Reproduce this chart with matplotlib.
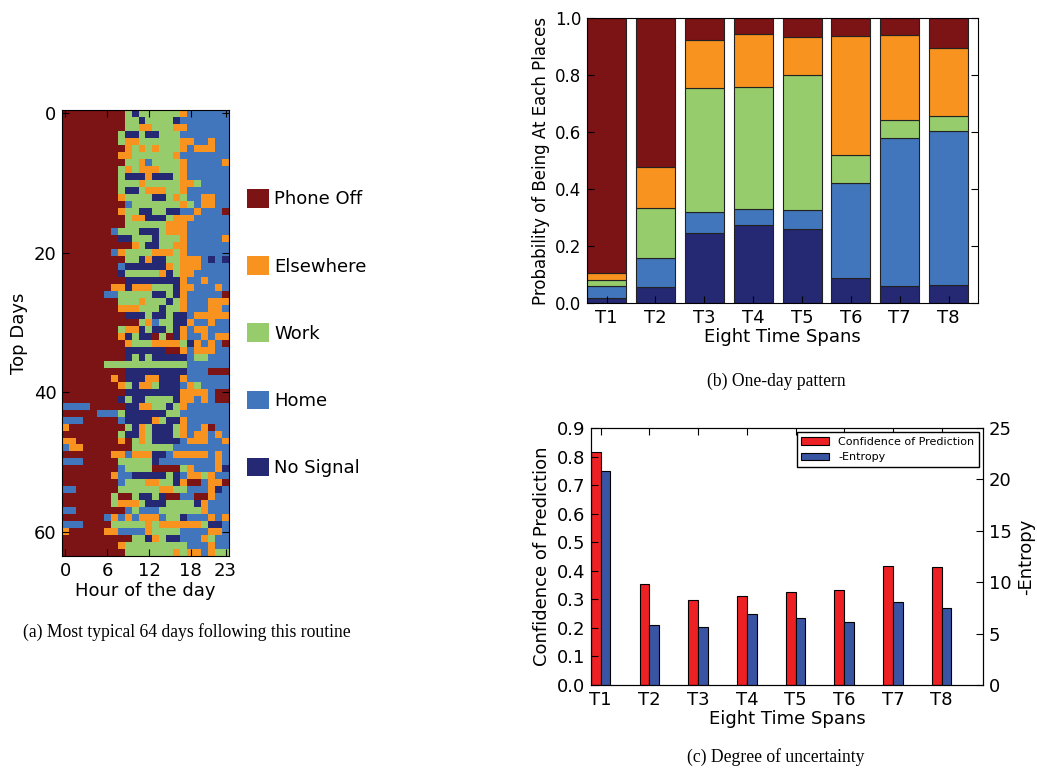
import numpy as np
import matplotlib.pyplot as plt
from matplotlib.colors import ListedColormap
from matplotlib.patches import Patch

plt.rcParams.update({
    'font.family': 'DejaVu Sans',
    'font.size': 12,
    'xtick.direction': 'in',
    'ytick.direction': 'in',
    'xtick.top': True,
    'ytick.right': True,
    'xtick.major.size': 5,
    'ytick.major.size': 5,
    'xtick.major.pad': 4,
    'ytick.major.pad': 4,
})

# categories (bottom -> top in the stacked bars)
states = ['No Signal', 'Home', 'Work', 'Elsewhere', 'Phone Off']
codes = 'NHWEP'
state_colors = ['#252872', '#4176bc', '#96cc6b', '#f7931e', '#7c1315']

# 64 typical days x 24 hours, one letter per hour
days = [
    "PPPPPPPPPWNWWWWWWEHHHHHH",
    "PPPPPPPPPWWNWWWWNHHHHHHH",
    "PPPPPPPPPWWEEWWWEEHHHHHH",
    "PPPPPPPPWNNWNNWWWHHHHHHH",
    "PPPPPPPPWEEWWWWWWEEHHEHH",
    "PPPPPPPPPEWEWEWWWEHEEEHH",
    "PPPPPPPPEEWWWWWWEHHHHHHH",
    "PPPPPPPPPWWEHWWWWEHHHHHE",
    "PPPPPPPPWEWEEEWWWEHHHHHH",
    "PPPPPPPPWNNNENNNWEHHHHHH",
    "PPPPPPPPWWWEWWWWWEEWHHHH",
    "PPPPPPPPWNNWEEEWWEHHHHHH",
    "PPPPPPPPEWWWWNNWEWHHEEHH",
    "PPPPPPPPPHWWWWWWWEWHEEHH",
    "PPPPPPPPEWWNNWWNNHHEHHHP",
    "PPPPPPPPPWEENNNWEEEHHHHH",
    "PPPPPPPPPWWWWWWEEEHHHHHH",
    "PPPPPPPHWWWNNNWEEEHHHHHH",
    "PPPPPPPPNNWWWNWWWEHHHHHE",
    "PPPPPPPPPPEWNNWWEEHHHHHH",
    "PPPPPPPHEWWWWEEEWEHHHHHH",
    "PPPPPPPPPWWNENNWWEEEHNHN",
    "PPPPPPPPHNNNNNNEWEEEHHHH",
    "PPPPPPPPNWWWWWENWEEHHHHH",
    "PPPPPPPPPNNNNNNNNEHHEHHH",
    "PPPPPPPEENEEEWWWNEEHHHEH",
    "PPPPPPHHWWWWWNNWNEHHHHHP",
    "PPPPPPPPWWWEWWWNWEHHHEEE",
    "PPPPPPPPEEEWWWNWWEHHHEEH",
    "PPPPPPPPPNNNWNNWNNHEEEEE",
    "PPPPPPPPPPPWEHWWNNEHHEHH",
    "PPPPPPPPWEENWNNWNEHEEHHH",
    "PPPPPPPPENWNNPWPNEHHEHEE",
    "PPPPPPPPPEWWWEEEEWNEHEHP",
    "PPPPPPPPPNNNNNNPPEHEEEHH",
    "PPPPPPPPPNWNWNNNNNHWWHHH",
    "PPPPPPWWWWWWWWWWWWHHHHHH",
    "PPPPPPPPPNNNNNNNNNHHHPPP",
    "PPPPPPPEPNNNEENNNEHHHHHH",
    "PPPPPPPPEWNEEWNNNHEWHHHH",
    "PPPPPPPPPNNNNNNNNEEEEHPP",
    "PPPPPPPPNWNNWWWWNEEHEHPP",
    "HHHHPPPPPNNEEWWNWEHHHHHH",
    "PPPPPHHHWNNNNNNWWHHHHHHH",
    "HHHPPPPPHNNNNEWNNEHHHHHH",
    "EPPPPPPPPWNEWNNNWEHHEPHH",
    "PPPPPPPPWNNEWNNNWEHEEHEH",
    "EEPPPPPPEPWEWNNNNHEEEHHE",
    "HEEPPPPPPPWWWWWWHHHHHHHH",
    "PPPPPPPEEHEEENNHEEEEEHEH",
    "HHHPPPPPWWWWWNHHHHHHHHEH",
    "PPPPPPPPHWWWWPPPPWEHHHEN",
    "PPPPPPPEHHNNNNNWNHEEWEHH",
    "PPPPPPPPHWWWEEWWNEPPHEEP",
    "HHPPPPPPWWWWWWEEWWHHHENH",
    "PPPPPPPWPPWNNWNPPHHPPEHH",
    "PPPPPPPWEEEWNNNWWWWNEHHH",
    "HHPPPPPPPHWHHHWWWWWWEHHH",
    "PPPPPPHEHEHEEEHWWNHHHEHE",
    "HHHPPPPWWWWWEWEEEEEEWNNH",
    "EPPPPPEEHHHHEWWWWHHHHEEH",
    "PPPPPPPPPPWWNEWNNHHHEWHH",
    "PPPPPPPPEWWWWWWWWWHHHEHH",
    "PPPPPPPPPWWWWWWWEWEEHEWW",
]

# one-day pattern, share of each state per time span
spans = ['T1', 'T2', 'T3', 'T4', 'T5', 'T6', 'T7', 'T8']
p_nosignal = [0.016, 0.057, 0.244, 0.272, 0.261, 0.088, 0.060, 0.064]
p_home = [0.044, 0.101, 0.076, 0.058, 0.065, 0.332, 0.520, 0.540]
p_work = [0.020, 0.174, 0.434, 0.428, 0.474, 0.098, 0.063, 0.053]
p_elsewhere = [0.025, 0.144, 0.169, 0.186, 0.134, 0.418, 0.298, 0.238]
p_phoneoff = [0.895, 0.524, 0.077, 0.056, 0.066, 0.064, 0.059, 0.105]

# degree of uncertainty
confidence = [0.817, 0.352, 0.296, 0.311, 0.326, 0.331, 0.416, 0.413]
neg_entropy = [20.8, 5.8, 5.6, 6.9, 6.5, 6.1, 8.1, 7.5]

fig = plt.figure(figsize=(10.37, 7.70), dpi=100, facecolor='white')

# ---- (a) heatmap
ax1 = fig.add_axes([62/1037, 1-556/770, 167/1037, 446/770])
grid = np.array([[codes.index(c) for c in row] for row in days])
ax1.imshow(grid, cmap=ListedColormap(state_colors), vmin=-0.5, vmax=4.5,
           aspect='auto', interpolation='nearest')
ax1.set_xticks([0, 6, 12, 18, 23])
ax1.set_yticks([0, 20, 40, 60])
ax1.tick_params(labelsize=13)
ax1.set_xlabel('Hour of the day', fontsize=13, labelpad=2)
ax1.set_ylabel('Top Days', fontsize=13, labelpad=4)

handles = [Patch(facecolor=state_colors[i], edgecolor='none') for i in range(4, -1, -1)]
labels = [states[i] for i in range(4, -1, -1)]
fig.legend(handles, labels, loc='upper left', bbox_to_anchor=(238/1037, 1-180/770),
           frameon=False, fontsize=13, handlelength=1.2, handleheight=1.2,
           handletextpad=0.3, labelspacing=2.65, borderpad=0)

fig.text(187/1037, 1-632/770, '(a) Most typical 64 days following this routine',
         ha='center', va='center', family='Liberation Serif', fontsize=12.7)

# ---- (b) stacked bars
ax2 = fig.add_axes([587/1037, 1-303/770, 391/1037, 285/770])
x = np.arange(len(spans))
bottom = np.zeros(len(spans))
for vals, col in zip([p_nosignal, p_home, p_work, p_elsewhere, p_phoneoff], state_colors):
    ax2.bar(x, vals, 0.8, bottom=bottom, color=col, edgecolor='#222222', linewidth=0.8)
    bottom += np.array(vals)
ax2.set_xlim(-0.4, 7.6)
ax2.set_ylim(0, 1)
ax2.set_yticks(np.arange(0, 1.01, 0.2))
ax2.set_xticks(x)
ax2.set_xticklabels(spans)
ax2.tick_params(axis='x', top=False, labelsize=13)
ax2.tick_params(axis='y', labelsize=12)
ax2.set_xlabel('Eight Time Spans', fontsize=13, labelpad=1)
ax2.set_ylabel('Probability of Being At Each Places', fontsize=12)

fig.text(776/1037, 1-381/770, '(b) One-day pattern',
         ha='center', va='center', family='Liberation Serif', fontsize=12.7)

# ---- (c) confidence vs entropy
ax3 = fig.add_axes([591/1037, 1-685/770, 392/1037, 257/770])
b1 = ax3.bar(x, confidence, 0.2, align='edge', color='#ed2024', edgecolor='black', linewidth=0.8,
             label='Confidence of Prediction')
ax3.set_ylim(0, 0.9)
ax3.set_yticks(np.arange(0, 0.91, 0.1))
ax3.set_xlim(0, 8.05)
ax3.set_xticks(x + 0.2)
ax3.set_xticklabels(spans)
ax3.tick_params(axis='y', right=False, labelsize=13)
ax3.tick_params(axis='x', labelsize=13)
ax3.set_xlabel('Eight Time Spans', fontsize=13, labelpad=1)
ax3.set_ylabel('Confidence of Prediction', fontsize=13)

ax4 = ax3.twinx()
b2 = ax4.bar(x + 0.2, neg_entropy, 0.2, align='edge', color='#3a54a4', edgecolor='black', linewidth=0.8,
             label='-Entropy')
ax4.set_ylim(0, 25)
ax4.set_yticks(np.arange(0, 26, 5))
ax4.tick_params(axis='y', left=False, labelsize=13)
ax4.set_ylabel('-Entropy', fontsize=13)
ax4.legend([b1, b2], ['Confidence of Prediction', '-Entropy'], loc='upper right',
           fontsize=8, fancybox=False, edgecolor='black', framealpha=1,
           handlelength=2.5, borderaxespad=0.4)

fig.text(776/1037, 1-757/770, '(c) Degree of uncertainty',
         ha='center', va='center', family='Liberation Serif', fontsize=12.7)

fig.savefig('out.png', dpi=100, facecolor='white')
